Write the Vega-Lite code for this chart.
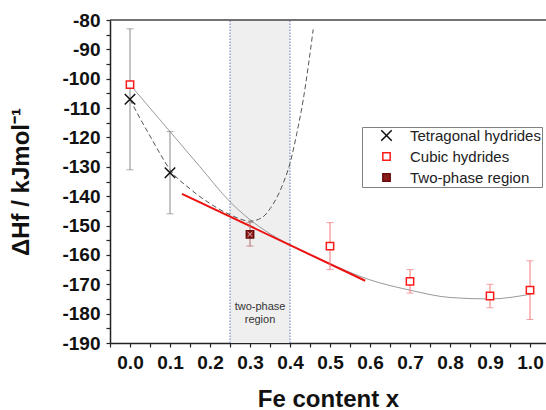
{
  "$schema": "https://vega.github.io/schema/vega-lite/v6.json",
  "width": 436,
  "height": 323,
  "autosize": {"type": "none"},
  "padding": {"left": 110, "top": 20, "right": 0, "bottom": 67},
  "background": "white",
  "config": {
    "view": {"stroke": null},
    "font": "Liberation Sans",
    "axis": {
      "grid": false,
      "domainColor": "#222222",
      "domainWidth": 1.5,
      "tickColor": "#222222",
      "tickWidth": 1.2,
      "tickSize": 4,
      "labelFont": "Liberation Sans",
      "labelFontSize": 19,
      "labelFontWeight": "bold",
      "labelColor": "#111111",
      "labelOverlap": false,
      "titleFont": "Liberation Sans",
      "titleFontWeight": "bold",
      "titleColor": "#111111"
    },
    "legend": {
      "strokeColor": "#808080",
      "fillColor": "white",
      "labelFont": "Liberation Sans",
      "labelColor": "#222222",
      "symbolSize": 110,
      "symbolStrokeWidth": 1.5
    }
  },
  "datasets": {
    "pts": [
      {"series": "Tetragonal hydrides", "x": 0.0, "y": -107, "lo": -131, "hi": -83},
      {"series": "Tetragonal hydrides", "x": 0.1, "y": -132, "lo": -146, "hi": -118},
      {"series": "Cubic hydrides", "x": 0.0, "y": -102, "lo": null, "hi": null},
      {"series": "Cubic hydrides", "x": 0.5, "y": -157, "lo": -165, "hi": -149},
      {"series": "Cubic hydrides", "x": 0.7, "y": -169, "lo": -173, "hi": -165},
      {"series": "Cubic hydrides", "x": 0.9, "y": -174, "lo": -178, "hi": -170},
      {"series": "Cubic hydrides", "x": 1.0, "y": -172, "lo": -182, "hi": -162},
      {"series": "Two-phase region", "x": 0.3, "y": -153, "lo": -157, "hi": -149}
    ],
    "gray": [
      {"x": 0.0, "y": -102}, {"x": 0.05, "y": -110}, {"x": 0.1, "y": -118},
      {"x": 0.175, "y": -130}, {"x": 0.25, "y": -141.9}, {"x": 0.3, "y": -148},
      {"x": 0.35, "y": -152.8}, {"x": 0.4, "y": -156.6}, {"x": 0.5, "y": -163},
      {"x": 0.6, "y": -168.5}, {"x": 0.7, "y": -172}, {"x": 0.8, "y": -174.5},
      {"x": 0.9, "y": -175}, {"x": 1.0, "y": -173.4}
    ],
    "dash": [
      {"x": 0.0, "y": -107}, {"x": 0.025, "y": -113.5}, {"x": 0.05, "y": -119.5},
      {"x": 0.075, "y": -125.5}, {"x": 0.1, "y": -131}, {"x": 0.15, "y": -137.5},
      {"x": 0.2, "y": -142.5}, {"x": 0.25, "y": -146.3}, {"x": 0.3, "y": -148.5},
      {"x": 0.33, "y": -147.3}, {"x": 0.35, "y": -144.3}, {"x": 0.383, "y": -135.6},
      {"x": 0.4, "y": -128.8}, {"x": 0.417, "y": -118.6}, {"x": 0.433, "y": -107.2},
      {"x": 0.458, "y": -83.2}
    ],
    "red": [
      {"x": 0.13, "y": -139.2}, {"x": 0.588, "y": -168.8}
    ],
    "band": [{"x": 0.25, "x1": 0.4, "y": -190, "y1": -80}],
    "edges": [{"x": 0.25, "y": -190, "y1": -80}, {"x": 0.4, "y": -190, "y1": -80}],
    "frame": [{"x": -0.05, "x1": 1.04, "y": -80}],
    "note": [
      {"x": 0.325, "y": -177.6, "t": "two-phase"},
      {"x": 0.325, "y": -182.2, "t": "region"}
    ]
  },
  "encoding": {
    "x": {
      "field": "x", "type": "quantitative",
      "scale": {"domain": [-0.05, 1.04], "nice": false, "zero": false},
      "axis": {
        "title": "Fe content x",
        "titleFontSize": 24,
        "titlePadding": 15,
        "values": [-0.05, 0, 0.05, 0.1, 0.15, 0.2, 0.25, 0.3, 0.35, 0.4, 0.45, 0.5, 0.55, 0.6, 0.65, 0.7, 0.75, 0.8, 0.85, 0.9, 0.95, 1.0],
        "labelExpr": "abs(round(datum.value * 100)) % 10 === 0 ? format(datum.value, '.1f') : ''",
        "labelPadding": 6
      }
    },
    "y": {
      "field": "y", "type": "quantitative",
      "scale": {"domain": [-190, -80], "nice": false, "zero": false},
      "axis": {
        "title": "ΔHf / kJmol⁻¹",
        "titleFontSize": 24,
        "titlePadding": 28,
        "values": [-190, -185, -180, -175, -170, -165, -160, -155, -150, -145, -140, -135, -130, -125, -120, -115, -110, -105, -100, -95, -90, -85, -80],
        "labelExpr": "abs(datum.value) % 10 === 0 ? toString(datum.value) : ''",
        "labelPadding": 6
      }
    }
  },
  "layer": [
    {
      "data": {"name": "band"},
      "mark": {"type": "rect", "fill": "#efefef"},
      "encoding": {"x2": {"field": "x1"}, "y2": {"field": "y1"}}
    },
    {
      "data": {"name": "edges"},
      "mark": {"type": "rule", "color": "#5b7bbd", "strokeWidth": 1, "strokeDash": [1.5, 1.5]},
      "encoding": {"y2": {"field": "y1"}}
    },
    {
      "data": {"name": "note"},
      "mark": {"type": "text", "font": "Liberation Sans", "fontSize": 11, "color": "#333333", "align": "center", "baseline": "middle"},
      "encoding": {"text": {"field": "t"}}
    },
    {
      "data": {"name": "gray"},
      "mark": {"type": "line", "color": "#9a9a9a", "strokeWidth": 1, "interpolate": "monotone"},
      "encoding": {}
    },
    {
      "data": {"name": "dash"},
      "mark": {"type": "line", "color": "#555555", "strokeWidth": 1, "strokeDash": [5, 3], "interpolate": "monotone"},
      "encoding": {}
    },
    {
      "data": {"name": "red"},
      "mark": {"type": "line", "color": "#ee1111", "strokeWidth": 2},
      "encoding": {}
    },
    {
      "data": {"name": "pts"},
      "transform": [{"filter": "isValid(datum.lo)"}],
      "mark": {"type": "rule", "strokeWidth": 1},
      "encoding": {
        "y": {"field": "lo", "type": "quantitative"},
        "y2": {"field": "hi"},
        "color": {"field": "series", "type": "nominal", "legend": null,
          "scale": {"domain": ["Cubic hydrides", "Tetragonal hydrides", "Two-phase region"], "range": ["#f07878", "#888888", "#b06a6a"]}}
      }
    },
    {
      "data": {"name": "pts"},
      "transform": [{"filter": "isValid(datum.lo)"}],
      "mark": {"type": "tick", "orient": "horizontal", "size": 7, "thickness": 1},
      "encoding": {
        "y": {"field": "lo", "type": "quantitative"},
        "color": {"field": "series", "type": "nominal", "legend": null,
          "scale": {"domain": ["Cubic hydrides", "Tetragonal hydrides", "Two-phase region"], "range": ["#f07878", "#888888", "#b06a6a"]}}
      }
    },
    {
      "data": {"name": "pts"},
      "transform": [{"filter": "isValid(datum.hi)"}],
      "mark": {"type": "tick", "orient": "horizontal", "size": 7, "thickness": 1},
      "encoding": {
        "y": {"field": "hi", "type": "quantitative"},
        "color": {"field": "series", "type": "nominal", "legend": null,
          "scale": {"domain": ["Cubic hydrides", "Tetragonal hydrides", "Two-phase region"], "range": ["#f07878", "#888888", "#b06a6a"]}}
      }
    },
    {
      "data": {"name": "pts"},
      "mark": {"type": "point", "filled": true, "size": 110, "strokeWidth": 1.5, "opacity": 1},
      "encoding": {
        "shape": {"field": "series", "type": "nominal",
          "legend": {"title": null, "orient": "none", "legendX": 252, "legendY": 107, "padding": 1, "symbolOffset": 16, "labelOffset": 16, "labelFontSize": 15, "rowPadding": 5},
          "scale": {"domain": ["Tetragonal hydrides", "Cubic hydrides", "Two-phase region"],
            "range": ["M-1,-1L1,1M-1,1L1,-1", "M-0.7,-0.7H0.7V0.7H-0.7Z", "M-0.7,-0.7H0.7V0.7H-0.7Z"]}},
        "fill": {"field": "series", "type": "nominal",
          "legend": {"title": null, "orient": "none", "legendX": 252, "legendY": 107, "padding": 1, "symbolOffset": 16, "labelOffset": 16, "labelFontSize": 15, "rowPadding": 5},
          "scale": {"domain": ["Tetragonal hydrides", "Cubic hydrides", "Two-phase region"], "range": ["transparent", "white", "#8b1c1c"]}},
        "stroke": {"field": "series", "type": "nominal",
          "legend": {"title": null, "orient": "none", "legendX": 252, "legendY": 107, "padding": 1, "symbolOffset": 16, "labelOffset": 16, "labelFontSize": 15, "rowPadding": 5},
          "scale": {"domain": ["Tetragonal hydrides", "Cubic hydrides", "Two-phase region"], "range": ["#111111", "#ff1a1a", "#6a0c0c"]}}
      }
    },
    {
      "data": {"name": "pts"},
      "transform": [{"filter": "datum.series === 'Two-phase region'"}],
      "mark": {"type": "point", "shape": "M-0.45,-0.45L0.45,0.45M-0.45,0.45L0.45,-0.45", "size": 110, "filled": false, "stroke": "#e8b8b8", "strokeWidth": 1, "opacity": 1},
      "encoding": {}
    },
    {
      "data": {"name": "frame"},
      "mark": {"type": "rule", "color": "#444444", "strokeWidth": 1.5},
      "encoding": {"x2": {"field": "x1"}}
    }
  ]
}
